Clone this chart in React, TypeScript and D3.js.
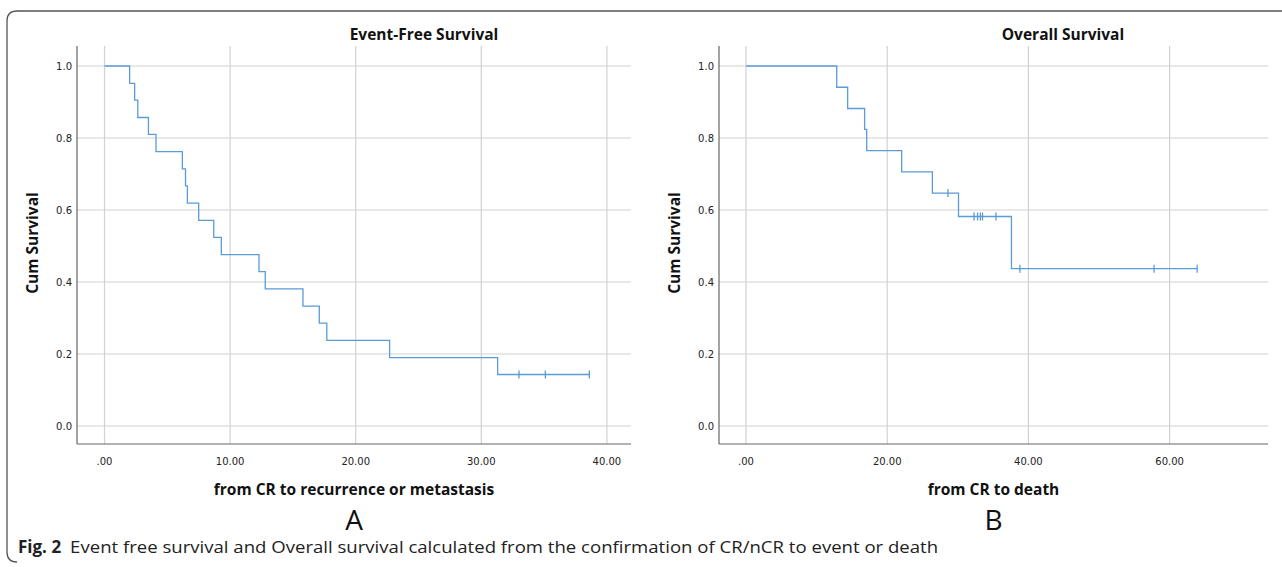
import React from "react";
import * as d3 from "d3";

// Event-free survival (A): step times and survival after each step
const efsTimes = [0, 2.0, 2.4, 2.65, 3.5, 4.1, 6.2, 6.45, 6.6, 7.5, 8.7, 9.3, 12.3, 12.8, 15.8, 17.1, 17.7, 22.7, 31.3];
const efsSurv = [1.0, 0.952, 0.905, 0.857, 0.81, 0.762, 0.714, 0.667, 0.619, 0.571, 0.524, 0.476, 0.429, 0.381, 0.333, 0.286, 0.238, 0.19, 0.143];
const efsCensorTimes = [33.0, 35.1, 38.6];
const efsCensorSurv = [0.143, 0.143, 0.143];
const efsTicks = [0, 10, 20, 30, 40];

// Overall survival (B)
const osTimes = [0, 12.85, 14.4, 16.8, 17.1, 22.05, 26.4, 30.1, 37.6];
const osSurv = [1.0, 0.941, 0.882, 0.824, 0.765, 0.706, 0.647, 0.582, 0.437];
const osCensorTimes = [28.6, 32.3, 32.8, 33.2, 33.5, 35.4, 38.8, 57.8, 63.9];
const osCensorSurv = [0.647, 0.582, 0.582, 0.582, 0.582, 0.582, 0.437, 0.437, 0.437];
const osTicks = [0, 20, 40, 60];

const yTicks = [0, 0.2, 0.4, 0.6, 0.8, 1.0];

const BLUE = "#5a9bd8";
const GRID = "#d2d2d2";
const AXIS = "#666";
const tickFont = "'DejaVu Sans', sans-serif";
const labelFont = "'Open Sans', sans-serif";

type PanelProps = {
  left: number;
  right: number;
  zeroX: number;
  pxPerUnit: number;
  times: number[];
  surv: number[];
  cTimes: number[];
  cSurv: number[];
  ticks: number[];
  title: string;
  titleX: number;
  xTitle: string;
  letter: string;
};

function Panel(p: PanelProps) {
  const top = 46, bottom = 444;
  const x = d3.scaleLinear()
    .domain([(p.left - p.zeroX) / p.pxPerUnit, (p.right - p.zeroX) / p.pxPerUnit])
    .range([p.left, p.right]);
  const y = d3.scaleLinear().domain([0, 1]).range([426, 66]);

  const lastT = Math.max(p.times[p.times.length - 1], ...p.cTimes);
  const pts: [number, number][] = p.times.map((t, i) => [t, p.surv[i]]);
  pts.push([lastT, p.surv[p.surv.length - 1]]);
  const line = d3.line<[number, number]>()
    .x(d => x(d[0]))
    .y(d => y(d[1]))
    .curve(d3.curveStepAfter);

  const mid = (p.left + p.right) / 2;
  const fmtX = (v: number) => (v === 0 ? ".00" : d3.format(".2f")(v));

  return (
    <g>
      {p.ticks.map(t => (
        <line key={"vx" + t} x1={x(t)} x2={x(t)} y1={top} y2={bottom} stroke={GRID} strokeWidth={1.2} />
      ))}
      {yTicks.map(t => (
        <line key={"hy" + t} x1={p.left} x2={p.right} y1={y(t)} y2={y(t)} stroke={GRID} strokeWidth={1.2} />
      ))}
      <line x1={p.left} x2={p.left} y1={top} y2={bottom} stroke={AXIS} strokeWidth={1.2} />
      <line x1={p.left} x2={p.right} y1={bottom} y2={bottom} stroke={AXIS} strokeWidth={1.2} />
      {yTicks.map(t => (
        <text key={"ly" + t} x={p.left - 5} y={y(t)} dy="0.35em" textAnchor="end"
          fontFamily={tickFont} fontSize={10} fill="#222">{t.toFixed(1)}</text>
      ))}
      {p.ticks.map(t => (
        <text key={"lx" + t} x={x(t)} y={461} dy="0.35em" textAnchor="middle"
          fontFamily={tickFont} fontSize={10} fill="#222">{fmtX(t)}</text>
      ))}
      <path d={line(pts) || ""} fill="none" stroke={BLUE} strokeWidth={1.3} />
      {p.cTimes.map((t, i) => (
        <line key={"c" + i} x1={x(t)} x2={x(t)} y1={y(p.cSurv[i]) - 4} y2={y(p.cSurv[i]) + 4}
          stroke={BLUE} strokeWidth={1.3} />
      ))}
      <text x={p.titleX} y={35} dy="0.35em" textAnchor="middle" fontFamily={labelFont}
        fontWeight={700} fontSize={15.5} fill="#111">{p.title}</text>
      <text transform={`translate(${p.left - 44},243) rotate(-90)`} dy="0.35em" textAnchor="middle"
        fontFamily={labelFont} fontWeight={700} fontSize={15.5} fill="#111">Cum Survival</text>
      <text x={mid} y={490} dy="0.35em" textAnchor="middle" fontFamily={labelFont}
        fontWeight={700} fontSize={15.5} fill="#111">{p.xTitle}</text>
      <text x={mid} y={520} dy="0.36em" textAnchor="middle" fontFamily={labelFont}
        fontSize={28} fill="#111">{p.letter}</text>
    </g>
  );
}

export default function App() {
  return (
    <svg width={1282} height={567} style={{ position: "absolute", left: 0, top: 0, background: "#fff" }}>
      <path d="M1282,11 H17 Q7,11 7,21 V552 Q7,562 17,562" fill="none" stroke="#555" strokeWidth={1.3} />
      <Panel left={77} right={631} zeroX={104.5} pxPerUnit={12.56}
        times={efsTimes} surv={efsSurv} cTimes={efsCensorTimes} cSurv={efsCensorSurv}
        ticks={efsTicks} title="Event-Free Survival" titleX={424}
        xTitle="from CR to recurrence or metastasis" letter="A" />
      <Panel left={719} right={1268} zeroX={746} pxPerUnit={7.06}
        times={osTimes} surv={osSurv} cTimes={osCensorTimes} cSurv={osCensorSurv}
        ticks={osTicks} title="Overall Survival" titleX={1063}
        xTitle="from CR to death" letter="B" />
      <text x={18} y={547} dy="0.35em" fontFamily={labelFont} fontSize={17} fill="#222">
        <tspan fontWeight={700}>Fig. 2</tspan>
        <tspan dx={9} textLength={868} lengthAdjust="spacingAndGlyphs">Event free survival and Overall survival calculated from the confirmation of CR/nCR to event or death</tspan>
      </text>
    </svg>
  );
}
